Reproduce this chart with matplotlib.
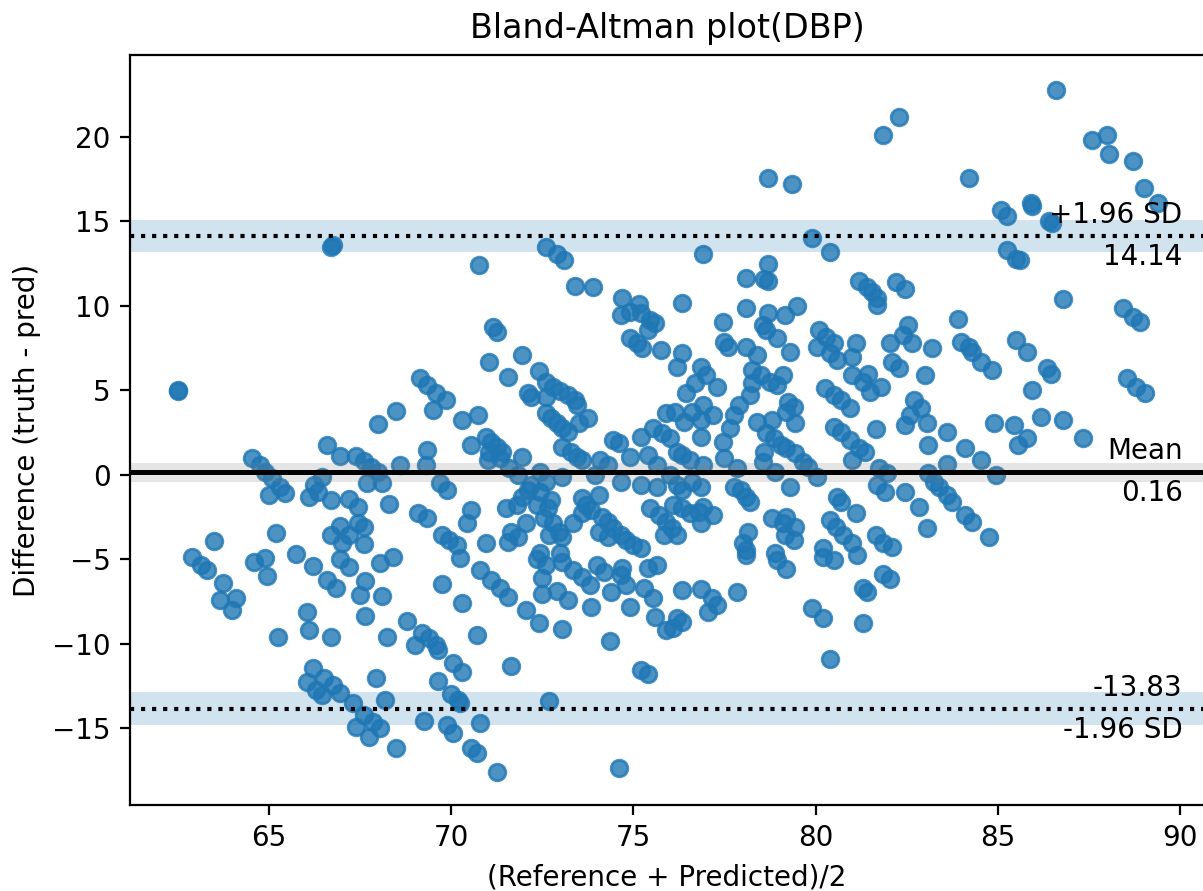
import matplotlib.pyplot as plt
import matplotlib.transforms as transforms
import numpy as np

# (mean of reference & predicted, difference), grouped by area
top_pts = [
    (86.6, 22.8), (82.3, 21.2), (81.85, 20.1), (87.6, 19.8), (88.0, 20.1), (88.05, 19.0),
    (88.7, 18.6), (89.0, 17.0), (89.4, 16.1), (78.7, 17.6), (79.35, 17.2), (84.2, 17.6),
    (85.1, 15.7), (85.25, 15.3), (85.9, 16.1), (85.95, 15.9), (86.4, 15.0), (86.5, 14.9),
    (85.25, 13.3), (85.5, 12.8), (85.6, 12.7), (86.8, 10.4), (88.45, 9.9), (88.7, 9.35),
    (88.9, 9.05), (79.9, 14.0), (80.4, 13.2), (76.9, 13.1), (78.7, 12.5), (78.1, 11.65),
    (78.6, 11.6), (78.7, 11.5), (81.2, 11.5), (81.4, 11.1), (81.55, 10.8), (81.7, 10.5),
    (82.2, 11.4), (82.45, 11.0), (76.35, 10.2), (78.1, 9.9), (79.5, 10.0), (70.76, 12.4),
    (72.6, 13.5), (72.9, 13.1), (73.1, 12.7), (73.4, 11.2), (73.9, 11.1), (74.7, 10.5),
    (75.15, 10.1), (66.7, 13.5), (66.75, 13.6), (62.5, 5.0), (62.5, 4.95),
]

left_mid_pts = [
    (68.5, 3.8), (68.0, 3.0), (66.6, 1.8), (66.95, 1.1), (67.4, 1.1), (67.6, 0.8),
    (67.8, 0.5), (68.0, 0.2), (64.55, 1.0), (64.75, 0.6), (64.9, 0.2), (65.1, -0.2),
    (65.3, -0.7), (65.45, -1.05), (65.0, -1.2), (66.25, -0.6), (66.45, -0.1), (66.1, -1.3),
    (66.35, -1.0), (66.7, -1.5), (67.2, -1.4), (67.45, -1.9), (67.7, -0.5), (68.1, -0.5),
    (68.3, -1.7), (68.6, 0.6), (66.95, -3.0), (67.45, -2.85), (67.6, -3.1), (66.7, -3.55),
    (67.0, -4.0), (67.2, -3.55), (67.6, -4.1), (65.2, -3.45), (63.5, -3.9),
]

left_low_pts = [
    (62.9, -4.85), (63.15, -5.3), (63.3, -5.6), (63.75, -6.4), (63.65, -7.4), (64.1, -7.3),
    (64.0, -8.0), (64.6, -5.15), (64.9, -4.9), (64.95, -6.0), (65.75, -4.7), (66.2, -5.4),
    (66.6, -6.2), (66.85, -6.7), (66.95, -5.0), (67.2, -5.45), (67.65, -6.3), (67.5, -7.1),
    (68.05, -5.2), (68.1, -7.15), (68.4, -4.85), (66.05, -8.1), (67.65, -8.35), (66.1, -9.2),
    (66.7, -9.6), (65.25, -9.6), (68.25, -9.6), (66.2, -11.4), (66.05, -12.25), (66.5, -12.0),
    (66.3, -12.7), (66.45, -13.0), (66.75, -12.4), (66.95, -12.9), (67.3, -13.5), (67.95, -12.0),
    (68.2, -13.3), (67.6, -14.2), (67.85, -14.6), (68.05, -15.0), (67.4, -14.9), (67.75, -15.5),
    (68.5, -16.15),
]

mid_low_pts = [
    (69.75, -6.45), (70.3, -7.6), (68.8, -8.65), (69.0, -10.05), (69.2, -9.35), (69.4, -9.65),
    (69.6, -10.05), (69.65, -10.35), (70.7, -9.45), (70.05, -11.1), (70.3, -11.65), (69.65, -12.2),
    (70.0, -12.95), (70.2, -13.3), (70.25, -13.5), (71.65, -11.3), (72.7, -13.35), (69.25, -14.55),
    (69.9, -14.8), (70.05, -15.25), (70.8, -14.7), (70.55, -16.15), (70.7, -16.45), (71.25, -17.6),
    (74.6, -17.35), (74.35, -9.8), (73.05, -9.1), (75.2, -11.55), (75.4, -11.8), (72.05, -8.0),
    (72.4, -8.75), (71.55, -7.2), (70.8, -5.6), (71.1, -6.2), (71.35, -6.7), (72.5, -7.05),
    (72.9, -6.85), (73.2, -7.4), (72.5, -6.1), (73.85, -7.8), (72.35, -5.0), (72.6, -5.3),
    (73.05, -5.15), (73.35, -5.6), (73.6, -6.05), (73.8, -6.5), (74.0, -5.3), (74.2, -5.75),
    (74.4, -6.9), (74.65, -5.9), (74.8, -6.5), (74.9, -7.8), (74.7, -5.5), (75.3, -6.7),
    (75.55, -7.3), (75.6, -8.4), (75.9, -9.2), (75.65, -5.3), (75.4, -5.5), (70.25, -4.9),
]

right_low_pts = [
    (76.35, -6.8), (76.85, -6.75), (77.15, -7.3), (77.3, -7.7), (77.05, -8.1), (76.1, -9.05),
    (76.2, -8.45), (76.35, -8.7), (77.85, -6.9), (78.1, -4.75), (78.95, -5.05), (79.2, -5.55),
    (80.2, -4.85), (80.5, -5.05), (81.15, -4.75), (81.85, -5.85), (82.05, -6.15), (81.3, -6.7),
    (81.4, -6.9), (79.9, -7.85), (80.2, -8.45), (81.3, -8.75), (80.4, -10.9),
]

far_right_pts = [
    (83.9, 9.2), (84.0, 7.85), (84.2, 7.6), (84.3, 7.3), (84.55, 6.7), (84.85, 6.2),
    (85.5, 8.0), (85.8, 7.3), (86.35, 6.3), (86.45, 6.0), (85.95, 5.0), (88.55, 5.75),
    (88.8, 5.2), (89.05, 4.85), (84.9, 3.1), (85.45, 2.95), (86.2, 3.4), (86.8, 3.25),
    (87.35, 2.2), (85.8, 2.2), (85.55, 1.8), (83.6, 2.55), (84.1, 1.6), (84.55, 0.9),
    (83.6, 0.65), (84.95, 0.0), (83.4, -0.7), (83.6, -1.2), (83.75, -1.6), (84.1, -2.35),
    (84.3, -2.8), (84.75, -3.65),
]

right_mid_pts = [
    (77.45, 9.05), (78.7, 9.6), (79.15, 9.45), (81.7, 10.05), (78.55, 8.9), (78.65, 8.6),
    (78.95, 8.1), (77.5, 7.85), (77.6, 7.55), (78.1, 7.55), (78.4, 7.1), (79.3, 7.3),
    (76.35, 7.2), (76.2, 6.4), (80.1, 8.6), (80.3, 8.15), (80.5, 7.8), (80.05, 7.55),
    (80.4, 7.2), (80.6, 6.8), (81.1, 7.8), (81.0, 7.0), (82.05, 7.8), (82.4, 8.3),
    (82.55, 8.9), (82.65, 7.8), (83.2, 7.5), (82.1, 6.7), (82.3, 6.3), (83.0, 5.9),
    (81.0, 5.9), (81.3, 5.5), (81.5, 4.9), (81.45, 6.0), (81.8, 5.2), (76.85, 6.4),
    (77.0, 5.9), (76.7, 5.45), (76.45, 4.85), (77.3, 5.2), (78.25, 6.2), (78.5, 5.9),
    (78.75, 5.5), (78.95, 5.3), (79.1, 5.9), (78.25, 5.45), (78.2, 4.75), (80.25, 5.15),
    (80.5, 4.75), (80.7, 4.45), (80.95, 3.95), (79.25, 4.3), (79.4, 4.0), (79.2, 3.7),
    (77.9, 4.15), (77.75, 3.55), (77.65, 2.8), (76.9, 4.15), (77.2, 3.55), (76.6, 3.7),
    (76.85, 3.25), (76.15, 3.7), (76.4, 3.15), (78.4, 3.15), (78.8, 3.25), (79.45, 3.1),
    (82.7, 4.45), (82.9, 3.95), (83.05, 3.1), (82.6, 3.55), (82.45, 2.95), (81.65, 2.7),
    (80.5, 2.85), (80.7, 2.55), (80.95, 2.05), (81.2, 1.6), (81.35, 1.35), (83.1, 1.8),
    (77.45, 1.95), (77.5, 1.0), (76.85, 2.25), (78.65, 2.5), (78.85, 2.2), (79.05, 1.8),
    (79.2, 1.6), (79.45, 1.3), (79.65, 0.75), (79.8, 0.5), (78.6, 1.35), (78.55, 0.75),
    (76.0, 2.2), (76.2, 1.35), (76.35, 1.2), (76.55, 0.9), (76.9, 0.6), (81.0, 0.9),
    (81.75, 0.4), (81.95, 0.1), (83.1, 0.1), (83.25, -0.4), (77.85, 0.4), (77.75, -0.7),
    (77.95, -0.9), (78.1, -1.3), (78.2, -1.6), (78.9, 0.2), (79.3, -0.7), (80.05, -0.15),
    (81.7, -0.6), (81.9, -1.0), (82.45, -1.0), (82.85, -1.9), (83.05, -3.15), (80.6, -1.3),
    (80.7, -1.6), (81.1, -2.25), (80.4, -2.65), (80.55, -3.1), (80.75, -3.55), (81.0, -4.0),
    (81.65, -3.55), (81.85, -4.0), (82.1, -4.25), (80.2, -4.3), (76.0, 0.0), (76.2, -0.6),
    (76.35, -0.9), (76.6, -0.4), (76.85, -0.7), (76.1, -1.8), (76.35, -1.95), (76.55, -2.25),
    (76.8, -2.2), (76.9, -1.9), (77.2, -2.35), (76.85, -2.85), (76.05, -3.15), (76.2, -3.55),
    (78.8, -2.55), (79.1, -2.85), (79.2, -2.5), (79.45, -3.1), (79.15, -3.55), (79.4, -3.85),
    (78.15, -3.4), (78.0, -4.0), (78.1, -4.45), (78.9, -4.6),
]

center_pts = [
    (71.15, 8.75), (71.25, 8.45), (71.05, 6.7), (71.95, 7.1), (71.55, 5.8), (72.4, 6.15),
    (72.1, 4.85), (72.2, 4.6), (72.6, 5.5), (72.8, 5.2), (73.0, 4.95), (73.2, 4.75),
    (73.4, 4.45), (73.45, 4.15), (72.6, 4.6), (72.6, 3.65), (72.75, 3.35), (72.9, 3.1),
    (73.05, 2.8), (73.2, 2.55), (73.5, 3.1), (73.75, 3.35), (73.05, 1.65), (73.3, 1.35),
    (73.45, 1.05), (73.6, 0.9), (69.15, 5.75), (69.35, 5.3), (69.6, 4.85), (69.85, 4.45),
    (69.5, 3.85), (70.3, 3.25), (70.75, 3.55), (69.35, 1.5), (69.3, 0.6), (70.55, 1.8),
    (70.95, 2.25), (71.1, 1.95), (71.25, 1.65), (71.4, 1.35), (71.05, 1.35), (71.0, 0.9),
    (71.35, 1.0), (71.95, 1.05), (71.6, 0.4), (71.85, 0.0), (72.45, 0.2), (72.6, -0.4),
    (72.45, -1.0), (72.2, -0.6), (73.05, -0.1), (74.1, 0.9), (74.3, 0.6), (74.45, 2.05),
    (74.6, 1.9), (73.95, 0.0), (74.65, -0.4), (74.9, 1.05), (75.4, 1.2), (75.65, 0.6),
    (75.2, 2.25), (75.55, 2.8), (75.8, 2.5), (75.9, 3.65), (75.2, -0.6), (75.65, -0.7),
    (74.65, 9.45), (74.9, 9.65), (75.2, 9.6), (75.45, 9.15), (75.6, 9.0), (74.9, 8.1),
    (75.1, 7.8), (75.25, 7.5), (75.75, 7.4), (75.4, 8.6), (69.7, -0.45), (69.9, -0.9),
    (69.1, -2.25), (69.35, -2.55), (70.55, -2.05), (70.45, -2.85), (71.5, -1.95), (71.8, -1.8),
    (71.95, -1.3), (72.1, -0.9), (72.35, -1.8), (72.65, -1.95), (72.75, -1.5), (71.65, -3.35),
    (71.85, -3.7), (72.05, -2.85), (71.55, -3.95), (72.55, -2.55), (72.8, -2.85), (72.95, -3.35),
    (72.7, -3.55), (73.05, -3.7), (73.35, -2.85), (73.6, -1.35), (73.7, -1.8), (73.85, -2.05),
    (73.6, -2.25), (74.05, -1.2), (74.15, -2.5), (74.3, -2.8), (74.45, -3.15), (74.65, -3.55),
    (74.8, -3.85), (75.0, -4.15), (75.2, -4.3), (74.05, -3.35), (74.3, -3.7), (75.45, -1.95),
    (75.7, -2.35), (75.9, -2.8), (69.75, -3.55), (69.95, -3.85), (70.15, -4.15), (70.95, -4.0),
    (75.85, -3.55), (72.45, -4.6), (73.0, -4.6),
]

# summary statistics shown on the chart
mean_diff = 0.16
loa_upper = 14.14
loa_lower = -13.83
ci_mean = (-0.41, 0.73)
ci_upper = (13.17, 15.11)
ci_lower = (-14.80, -12.86)

all_pts = np.array(top_pts + left_mid_pts + left_low_pts + mid_low_pts
                   + right_low_pts + far_right_pts + right_mid_pts + center_pts)
means = all_pts[:, 0]
diffs = all_pts[:, 1]

fig = plt.figure(figsize=(1203 / 200, 891 / 200), dpi=200)
ax = fig.add_axes([130 / 1203, 86 / 891, 1074 / 1203, 750 / 891])

# color= sets face and edge, as the original plotting call did
ax.scatter(means, diffs, color="tab:blue", alpha=0.8)

ax.axhline(mean_diff, color="k", linestyle="-", lw=1.8)
ax.axhline(loa_upper, color="k", linestyle=":", lw=1.5)
ax.axhline(loa_lower, color="k", linestyle=":", lw=1.5)
ax.axhspan(ci_mean[0], ci_mean[1], facecolor="tab:grey", alpha=0.2)
ax.axhspan(ci_upper[0], ci_upper[1], facecolor="tab:blue", alpha=0.2)
ax.axhspan(ci_lower[0], ci_lower[1], facecolor="tab:blue", alpha=0.2)

# labels at the right edge, offset from each line
trans = transforms.blended_transform_factory(ax.transAxes, ax.transData)
offset = (loa_upper - loa_lower) / 100.0 * 1.5
ax.text(0.98, mean_diff + offset, "Mean", ha="right", va="bottom", transform=trans)
ax.text(0.98, mean_diff - offset, "%.2f" % mean_diff, ha="right", va="top", transform=trans)
ax.text(0.98, loa_upper + offset, "+1.96 SD", ha="right", va="bottom", transform=trans)
ax.text(0.98, loa_upper - offset, "%.2f" % loa_upper, ha="right", va="top", transform=trans)
ax.text(0.98, loa_lower - offset, "-1.96 SD", ha="right", va="top", transform=trans)
ax.text(0.98, loa_lower + offset, "%.2f" % loa_lower, ha="right", va="bottom", transform=trans)

ax.set_xlim(61.19, 90.66)
ax.set_ylim(-19.53, 24.85)
ax.set_xticks([65, 70, 75, 80, 85, 90])
ax.set_yticks([-15, -10, -5, 0, 5, 10, 15, 20])
ax.set_xlabel("(Reference + Predicted)/2")
ax.set_ylabel("Difference (truth - pred)")
ax.set_title("Bland-Altman plot(DBP)")

fig.savefig("out.png", dpi=200)
